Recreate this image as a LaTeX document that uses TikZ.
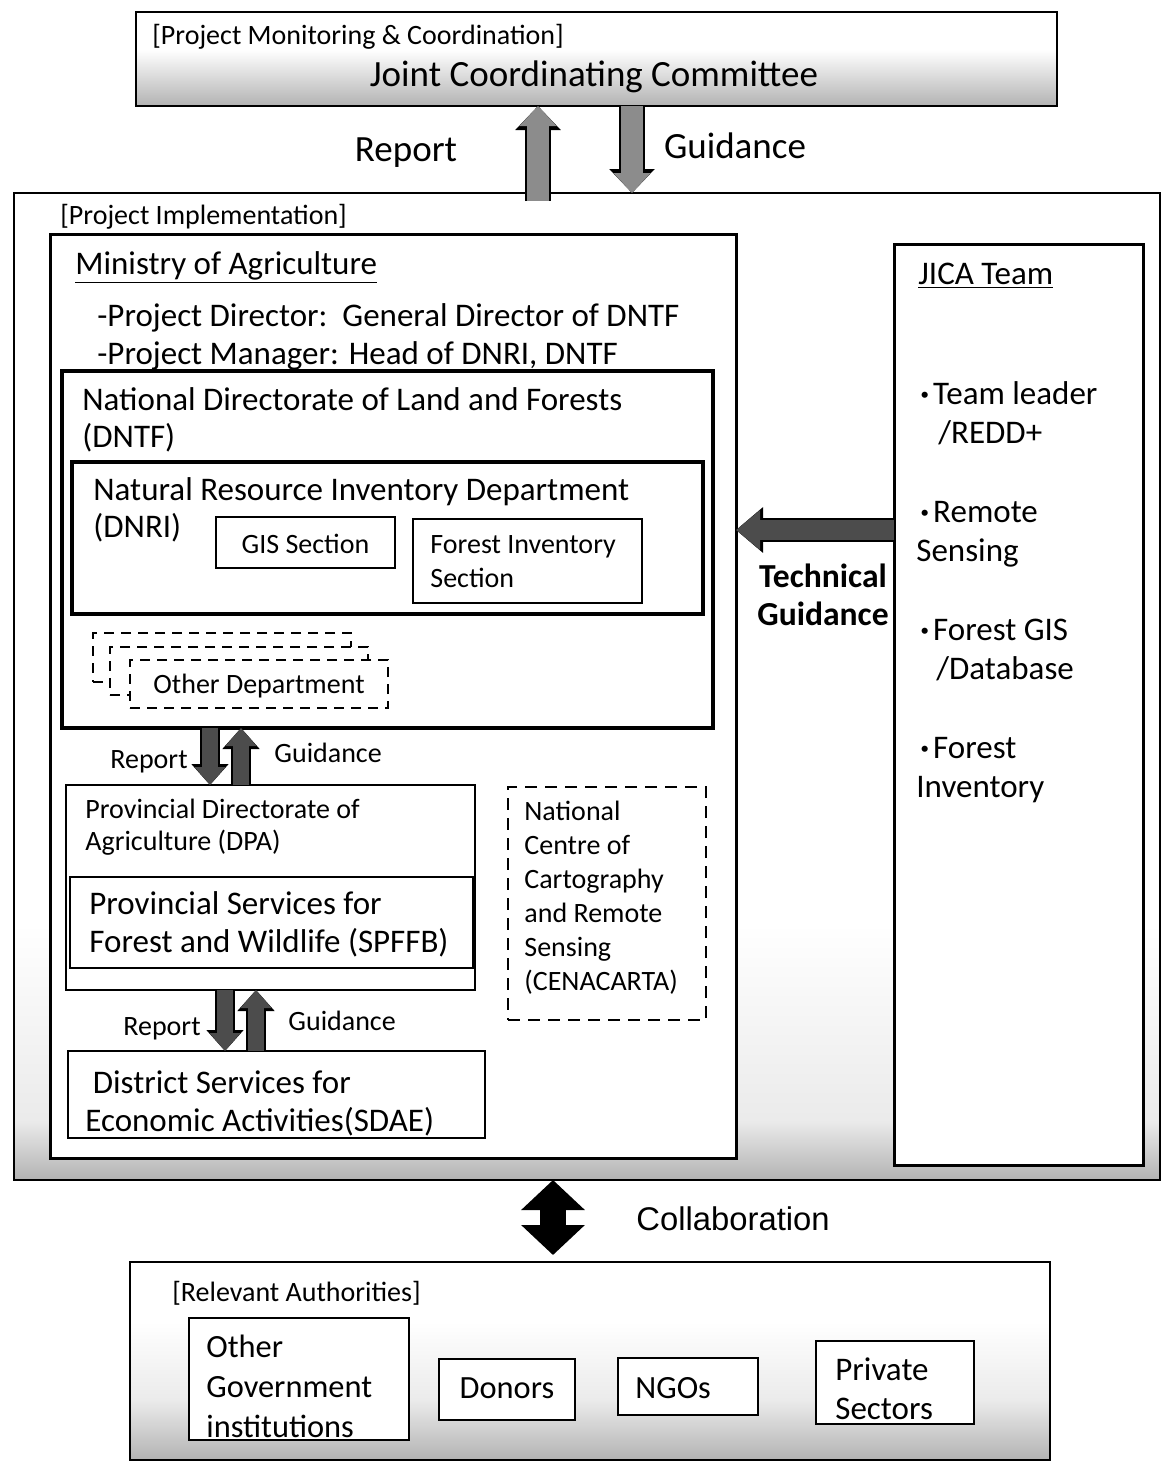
\documentclass[tikz,border=0pt]{standalone}
\usepackage{fontspec}
\setmainfont{Carlito}
\newfontfamily\arialfont{Liberation Sans}
\usetikzlibrary{arrows.meta,fit}
\colorlet{fadegray}{black!30}
\colorlet{lightgray}{black!8}
\pgfdeclareverticalshading{implfade}{100bp}{color(0bp)=(fadegray); color(25bp)=(fadegray); color(28bp)=(lightgray); color(38bp)=(white); color(100bp)=(white)}
\pgfdeclareverticalshading{jccfade}{100bp}{color(0bp)=(fadegray); color(25bp)=(fadegray); color(55bp)=(white); color(100bp)=(white)}
\pgfdeclareverticalshading{relfade}{100bp}{color(0bp)=(fadegray); color(25bp)=(fadegray); color(40bp)=(lightgray); color(60bp)=(white); color(100bp)=(white)}

\begin{document}
\begin{tikzpicture}[x=0.5pt,y=0.5pt,yscale=-1,
    box/.style={draw, fill=white, inner sep=0pt, outer sep=0pt, line width=1pt},
    thickbox/.style={box, line width=2pt},
    dashbox/.style={box, line width=1.4pt, dash pattern=on 5pt off 3.5pt},
    txt/.style={anchor=base west, inner sep=0pt, align=left},
    ctxt/.style={anchor=base, inner sep=0pt, align=center},
    fsmall/.style={font=\fontsize{14}{17}\selectfont},
    fnorm/.style={font=\fontsize{16.5}{18.5}\selectfont},
    fbig/.style={font=\fontsize{18.5}{22}\selectfont},
    toparr/.style={line width=11pt, draw=black!45, -{Triangle[length=10pt,width=18pt]},
        preaction={draw=black, line width=13pt, -{Triangle[length=12pt,width=22pt]}}},
    midarr/.style={line width=8pt, draw=black!70, -{Triangle[length=9pt,width=15pt]},
        preaction={draw=black, line width=10pt, -{Triangle[length=10.5pt,width=18pt]}}},
    techarr/.style={line width=10pt, draw=black!70, -{Triangle[length=12pt,width=19pt]},
        preaction={draw=black, line width=12pt, -{Triangle[length=13.5pt,width=22pt]}}},
    collabarr/.style={line width=13pt, draw=black, {Triangle[length=15pt,width=31pt]}-{Triangle[length=15pt,width=31pt]}}]
\useasboundingbox (0,0) rectangle (1163,1463);

% Monitoring and coordination
\node[box, shade, shading=jccfade, fit={(136,12) (1057,106)}] (jcc) {};
\node[txt, fsmall] (pmctxt) at (152,44) {[Project Monitoring \& Coordination]};
\node[ctxt, fbig] (jcctxt) at (594,86) {Joint Coordinating Committee};

% Project implementation
\node[box, shade, shading=implfade, fit={(14,193) (1160,1180)}] (impl) {};
\node[txt, fsmall] (impltxt) at (60,224) {[Project Implementation]};

\node[ctxt, fbig] (reptop) at (406,161) {Report};
\node[ctxt, fbig] (guitop) at (735,158) {Guidance};
\draw[toparr] (impl.north -| 538,0) ++(0,8) -- (jcc.south -| 538,0);
\draw[toparr] (jcc.south -| 632,0) -- (impl.north -| 632,0);

% Ministry
\node[box, line width=1.5pt, fit={(50,234) (736,1158)}] (ministry) {};
\node[txt, fnorm] (ministrytxt) at (75,274) {\underline{Ministry of Agriculture}};
\node[txt, fnorm] (director) at (97,326) {-Project Director:\ \ General Director of DNTF};
\node[txt, fnorm] (manager) at (97,364) {-Project Manager: Head of DNRI, DNTF};

\node[thickbox, fit={(62,371) (713,728)}] (dntf) {};
\node[txt, fnorm] (dntftxt) at (82,447) {National Directorate of Land and Forests\\(DNTF)};
\node[thickbox, fit={(72,462) (703,614)}] (dnri) {};
\node[txt, fnorm] (dnritxt) at (93,537) {Natural Resource Inventory Department\\(DNRI)};
\node[box, fit={(216,517) (395,568)}] (gis) {};
\node[ctxt, fsmall] (gistxt) at (gis.center |- 0,553) {GIS Section};
\node[box, fit={(413,519) (642,603)}] (fis) {};
\node[txt, fsmall] (fistxt) at (430,587) {Forest Inventory\\Section};

% other departments
\node[dashbox, fit={(93,633) (351,682)}] (otherc) {};
\node[dashbox, fit={(110,647) (368,695)}] (otherb) {};
\node[dashbox, fit={(130,660) (388,708)}] (othera) {};
\node[ctxt, fsmall] (othertxt) at (othera.center |- 0,693) {Other Department};

% provincial level
\node[box, fit={(66,785) (475,990)}] (dpa) {};
\node[txt, font=\fontsize{14}{16}\selectfont] (dpatxt) at (85,850) {Provincial Directorate of\\Agriculture (DPA)};
\node[box, fit={(70,877) (473,968)}] (spffb) {};
\node[txt, font=\fontsize{16.5}{19}\selectfont] (spffbtxt) at (89,952) {Provincial Services for\\Forest and Wildlife (SPFFB)};
\node[ctxt, fsmall] (repmid) at (149,768) {Report};
\node[txt, fsmall] (guimid) at (274,762) {Guidance};
\draw[midarr] (dntf.south -| 210,0) -- (dpa.north -| 210,0);
\draw[midarr] (dpa.north -| 241,0) -- (dntf.south -| 241,0);

\node[box, line width=1.4pt, dash pattern=on 6pt off 4pt, fit={(508,787) (706,1020)}] (cena) {};
\node[txt, fsmall] (cenatxt) at (524,990) {National\\Centre of\\Cartography\\and Remote\\Sensing\\(CENACARTA)};

% district level
\node[box, fit={(68,1051) (485,1138)}] (sdae) {};
\node[txt, font=\fontsize{16.5}{19}\selectfont] (sdaetxt) at (85,1131) {\ District Services for\\Economic Activities(SDAE)};
\node[ctxt, fsmall] (replow) at (162,1035) {Report};
\node[txt, fsmall] (guilow) at (288,1030) {Guidance};
\draw[midarr] (dpa.south -| 225,0) -- (sdae.north -| 225,0);
\draw[midarr] (sdae.north -| 256,0) -- (dpa.south -| 256,0);

% JICA team
\node[box, line width=1.5pt, fit={(894,244) (1143,1165)}] (jica) {};
\node[txt, fnorm] (jicatxt) at (918,284) {\underline{JICA Team}};
\node[txt, font=\fontsize{16.5}{19.5}\selectfont] (jicalist) at (916,797) {\hspace*{2pt}\textbf{·}\hspace{2pt}Team leader\\\hspace*{11pt}/REDD+\\[20pt]\hspace*{2pt}\textbf{·}\hspace{2pt}Remote\\Sensing\\[20pt]\hspace*{2pt}\textbf{·}\hspace{2pt}Forest GIS\\\hspace*{10pt}/Database\\[20pt]\hspace*{2pt}\textbf{·}\hspace{2pt}Forest\\Inventory};
\draw[techarr] (jica.west |- 0,530) -- (ministry.east |- 0,530);
\node[ctxt, font=\bfseries\fontsize{16.8}{19}\selectfont] (techtxt) at (823,625) {Technical\\Guidance};

% relevant authorities
\draw[collabarr] (impl.south -| 553,0) -- (553,1255) coordinate (relin);
\node[txt, font=\arialfont\fontsize{16.4}{19}\selectfont] (collabtxt) at (636,1230) {Collaboration};
\node[box, shade, shading=relfade, fit={(130,1262) (1050,1460)}] (rel) {};
\node[txt, fsmall] (reltxt) at (172,1301) {[Relevant Authorities]};
\node[box, line width=1.3pt, fit={(189,1318) (409,1440)}] (ogi) {};
\node[txt, font=\fontsize{16.2}{20}\selectfont] (ogitxt) at (206,1437) {Other\\Government\\institutions};
\node[box, line width=1.3pt, fit={(439,1359) (575,1420)}] (donors) {};
\node[ctxt, font=\fontsize{16.2}{20}\selectfont] (donorstxt) at (donors.center |- 0,1398) {Donors};
\node[box, line width=1.3pt, fit={(618,1358) (758,1415)}] (ngos) {};
\node[txt, font=\fontsize{16.2}{20}\selectfont] (ngostxt) at (635,1398) {NGOs};
\node[box, line width=1.3pt, fit={(816,1341) (974,1424)}] (priv) {};
\node[txt, font=\fontsize{16.5}{19.5}\selectfont] (privtxt) at (835,1419) {Private\\Sectors};

\end{tikzpicture}
\end{document}
